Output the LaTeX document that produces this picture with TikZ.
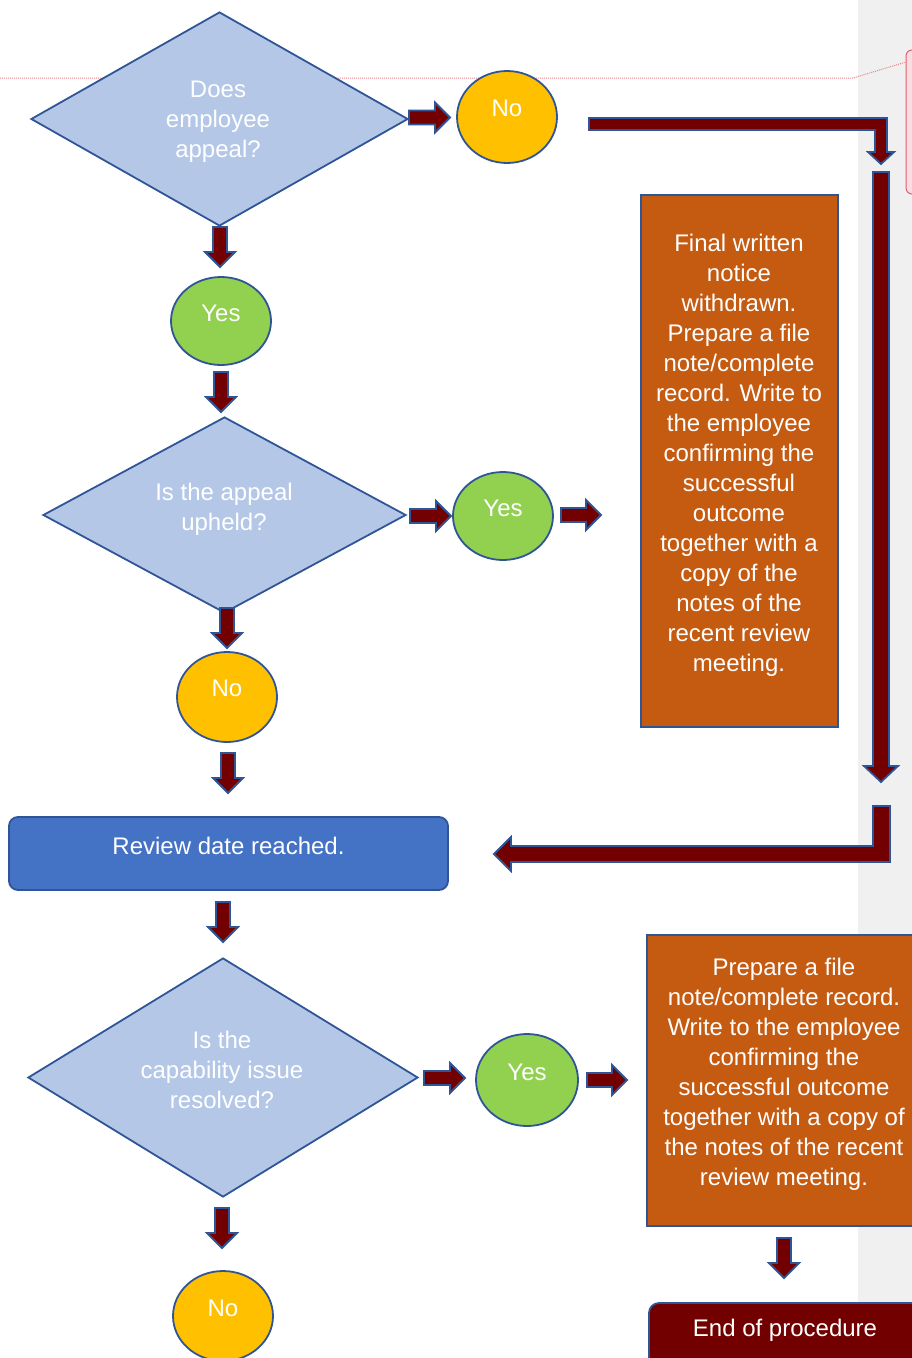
\documentclass[tikz,border=0pt]{standalone}
\usepackage{fontspec}
\setmainfont{Liberation Sans}
\usetikzlibrary{shapes.geometric}
\definecolor{eblue}{HTML}{2F5597}
\definecolor{dfill}{HTML}{B4C7E7}
\definecolor{cyel}{HTML}{FFC000}
\definecolor{cgreen}{HTML}{92D050}
\definecolor{corange}{HTML}{C55A11}
\definecolor{cblue}{HTML}{4472C4}
\definecolor{dred}{HTML}{720000}
\definecolor{cgrey}{HTML}{F0F0F0}
\definecolor{cpink}{HTML}{FADDE1}
\definecolor{cpinkline}{HTML}{E06070}
\definecolor{cdot}{HTML}{E8848E}
\newcommand\harr[3]{%
  \draw[blk] (#1,{#3-7}) -- ({#2-15},{#3-7}) -- ({#2-15},{#3-15}) -- (#2,#3) -- ({#2-15},{#3+15}) -- ({#2-15},{#3+7}) -- (#1,{#3+7}) -- cycle;}
\newcommand\varr[3]{%
  \draw[blk] ({#1-7},#2) -- ({#1+7},#2) -- ({#1+7},{#3-15}) -- ({#1+15},{#3-15}) -- (#1,#3) -- ({#1-15},{#3-15}) -- ({#1-7},{#3-15}) -- cycle;}
\begin{document}
\begin{tikzpicture}[x=1pt,y=-1pt,
  blk/.style={fill=dred,draw=eblue,line width=1.8pt,line join=miter},
  dia/.style={diamond,fill=dfill,draw=eblue,line width=1.8pt,inner sep=0pt},
  circ/.style={ellipse,draw=eblue,line width=1.8pt,inner sep=0pt},
  txt/.style={text=white,font=\fontsize{24}{30}\selectfont,align=center,inner sep=0pt},
  obox/.style={rectangle,fill=corange,draw=eblue,line width=1.8pt,inner sep=0pt}]
\useasboundingbox (0,0) rectangle (912,1358);
\clip (0,0) rectangle (912,1358);
\fill[cgrey] (858,0) rectangle (912,1358);
% comment marker
\draw[cdot,densely dotted,line width=1pt] (0,78) -- (853,78) -- (906,62);
\draw[cpinkline,fill=cpink,line width=1pt,rounded corners=6pt] (906,50) rectangle (950,194);

% diamonds
\node[dia,minimum width=377pt,minimum height=214pt] (d1) at (219.5,119) {};
\node[txt] (d1t) at (218,122) {Does\\employee\\appeal?};
\node[dia,minimum width=363pt,minimum height=196pt] (d2) at (224.5,515) {};
\node[txt] (d2t) at (224,509) {Is the appeal\\upheld?};
\node[dia,minimum width=390pt,minimum height=239pt] (d3) at (223,1077.5) {};
\node[txt] (d3t) at (222,1070) {Is the\\capability issue\\resolved?};

% circles
\node[circ,fill=cyel,minimum width=100pt,minimum height=92pt] (no1) at (507,117) {};
\node[txt] at ([yshift=9pt]no1.center) {No};
\node[circ,fill=cgreen,minimum width=100pt,minimum height=88pt] (yes1) at (221,321) {};
\node[txt] at ([yshift=8pt]yes1.center) {Yes};
\node[circ,fill=cgreen,minimum width=100pt,minimum height=88pt] (yes2) at (503,516) {};
\node[txt] at ([yshift=8pt]yes2.center) {Yes};
\node[circ,fill=cyel,minimum width=100pt,minimum height=90pt] (no2) at (227,697) {};
\node[txt] at ([yshift=9pt]no2.center) {No};
\node[circ,fill=cgreen,minimum width=102pt,minimum height=92pt] (yes3) at (527,1080) {};
\node[txt] at ([yshift=8pt]yes3.center) {Yes};
\node[circ,fill=cyel,minimum width=100pt,minimum height=90pt] (no3) at (223,1316) {};
\node[txt] at ([yshift=8pt]no3.center) {No};

% boxes
\node[obox,minimum width=197pt,minimum height=532pt] (b1) at (739.5,461) {};
\node[txt] (b1t) at (739,455) {Final written\\notice\\withdrawn.\\Prepare a file\\note/complete\\record. Write to\\the employee\\confirming the\\successful\\outcome\\together with a\\copy of the\\notes of the\\recent review\\meeting.};
\node[obox,minimum width=274pt,minimum height=291pt] (b2) at (784,1080.5) {};
\node[txt] (b2t) at (784,1074) {Prepare a file\\note/complete record.\\Write to the employee\\confirming the\\successful outcome\\together with a copy of\\the notes of the recent\\review meeting.};
\node[rectangle,rounded corners=9pt,fill=cblue,draw=eblue,line width=1.8pt,minimum width=439pt,minimum height=73pt,inner sep=0pt] (rev) at (228.5,853.5) {};
\node[txt] at ([yshift=8pt]rev.center) {Review date reached.};
\node[rectangle,rounded corners=10pt,fill=dred,draw=eblue,line width=1.8pt,minimum width=272pt,minimum height=90pt,inner sep=0pt] (end) at (785,1348) {};
\node[txt] at (785,1330) {End of procedure};

% straight block arrows
\harr{409}{450}{117.5}
\varr{220}{227}{267}
\varr{221}{372}{412}
\harr{410}{451}{516}
\harr{561}{601}{515}
\varr{227}{608}{648}
\varr{228}{753}{793}
\varr{223}{902}{942}
\harr{424}{465}{1078}
\harr{587}{627}{1080}
\varr{784}{1238}{1278}
\varr{222}{1208}{1248}

% bent arrows
\draw[blk] (589,118) -- (887,118) -- (887,152) -- (894,152) -- (881,164) -- (868,152) -- (875,152) -- (875,130) -- (589,130) -- cycle;
\draw[blk] (873,172) -- (889,172) -- (889,766) -- (898,766) -- (881,782) -- (864,766) -- (873,766) -- cycle;
\draw[blk] (873,806) -- (890,806) -- (890,862) -- (511,862) -- (511,871) -- (494,854) -- (511,837) -- (511,846) -- (873,846) -- cycle;
\end{tikzpicture}
\end{document}
